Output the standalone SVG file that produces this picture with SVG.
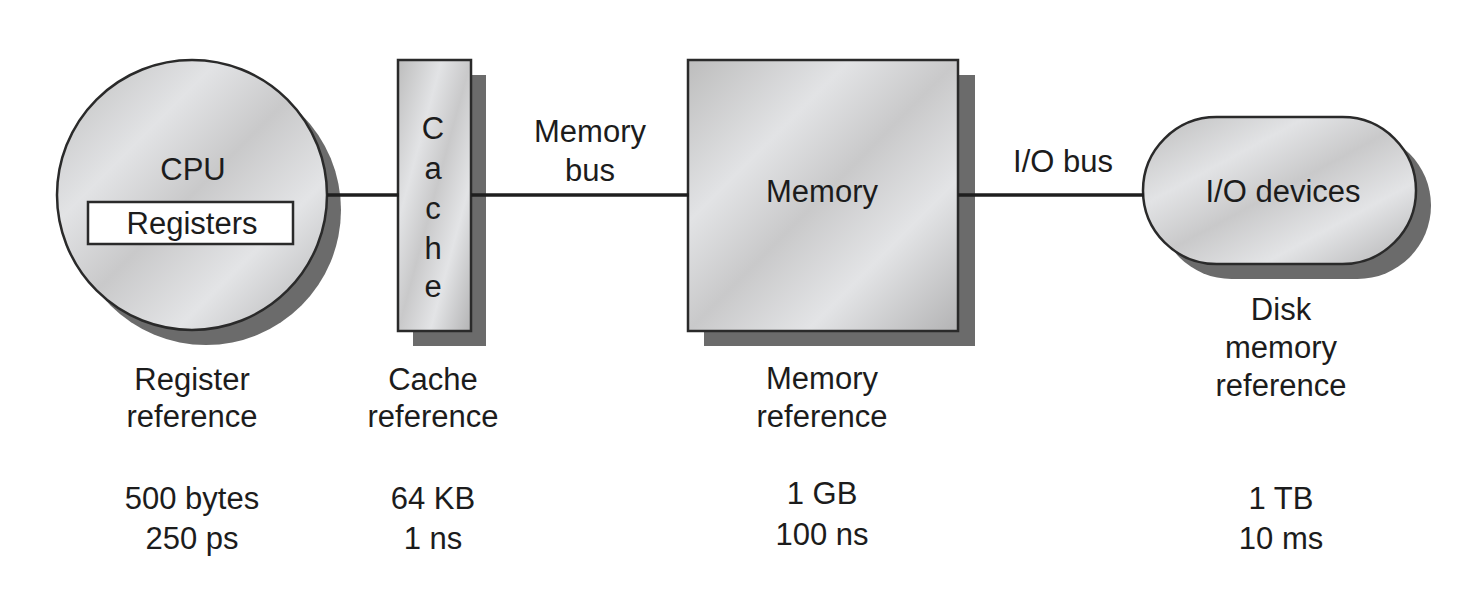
<svg xmlns="http://www.w3.org/2000/svg" width="1480" height="597" viewBox="0 0 1480 597">
<defs>
<linearGradient id="silver" x1="0" y1="0" x2="1" y2="1">
<stop offset="0" stop-color="#bdbdbd"/>
<stop offset="0.3" stop-color="#e2e3e5"/>
<stop offset="0.5" stop-color="#c9c9ca"/>
<stop offset="0.72" stop-color="#e3e4e6"/>
<stop offset="1" stop-color="#b3b3b4"/>
</linearGradient>
<style>
.shadow{fill:#6b6b6b;}
.body{fill:url(#silver);stroke:#2a2a2a;stroke-width:2.5;}
.t{font-family:"Liberation Sans",Arial,sans-serif;font-size:31px;fill:#1c1c1c;text-anchor:middle;}
.bus{stroke:#1e1e1e;stroke-width:3.5;fill:none;}
</style>
</defs>
<rect width="1480" height="597" fill="#ffffff"/>
<g id="cpu">
<circle class="shadow" cx="206" cy="210" r="135"/>
<circle class="body" cx="192" cy="195" r="135"/>
<text class="t" x="193" y="180">CPU</text>
<rect x="88" y="202" width="205" height="42" fill="#ffffff" stroke="#2a2a2a" stroke-width="2.5"/>
<text class="t" x="192" y="234">Registers</text>
</g>
<g id="cache">
<rect class="shadow" x="413" y="75" width="73" height="271"/>
<rect class="body" x="398" y="60" width="73" height="271"/>
<text class="t" x="433" y="139">C</text>
<text class="t" x="433" y="179">a</text>
<text class="t" x="433" y="219">c</text>
<text class="t" x="433" y="259">h</text>
<text class="t" x="433" y="297">e</text>
</g>
<g id="memory">
<rect class="shadow" x="704" y="75" width="271" height="271"/>
<rect class="body" x="688" y="60" width="270" height="271"/>
<text class="t" x="822" y="202">Memory</text>
</g>
<g id="io">
<rect class="shadow" x="1158" y="132" width="273" height="147" rx="73.5" ry="73.5"/>
<rect class="body" x="1143" y="117" width="273" height="147" rx="73.5" ry="73.5"/>
<text class="t" x="1283" y="202">I/O devices</text>
</g>
<g id="connectors">
<line class="bus" x1="327" y1="195" x2="399" y2="195"/>
<line class="bus" x1="471" y1="195" x2="689" y2="195"/>
<line class="bus" x1="958" y1="195" x2="1144" y2="195"/>
</g>
<g id="labels">
<text class="t" x="590" y="142">Memory</text>
<text class="t" x="590" y="181">bus</text>
<text class="t" x="1063" y="172">I/O bus</text>
<text class="t" x="192" y="390">Register</text>
<text class="t" x="192" y="427">reference</text>
<text class="t" x="433" y="390">Cache</text>
<text class="t" x="433" y="427">reference</text>
<text class="t" x="822" y="389">Memory</text>
<text class="t" x="822" y="427">reference</text>
<text class="t" x="1281" y="320">Disk</text>
<text class="t" x="1281" y="358">memory</text>
<text class="t" x="1281" y="396">reference</text>
<text class="t" x="192" y="509">500 bytes</text>
<text class="t" x="192" y="549">250 ps</text>
<text class="t" x="433" y="509">64 KB</text>
<text class="t" x="433" y="549">1 ns</text>
<text class="t" x="822" y="504">1 GB</text>
<text class="t" x="822" y="545">100 ns</text>
<text class="t" x="1281" y="509">1 TB</text>
<text class="t" x="1281" y="549">10 ms</text>
</g>
</svg>
